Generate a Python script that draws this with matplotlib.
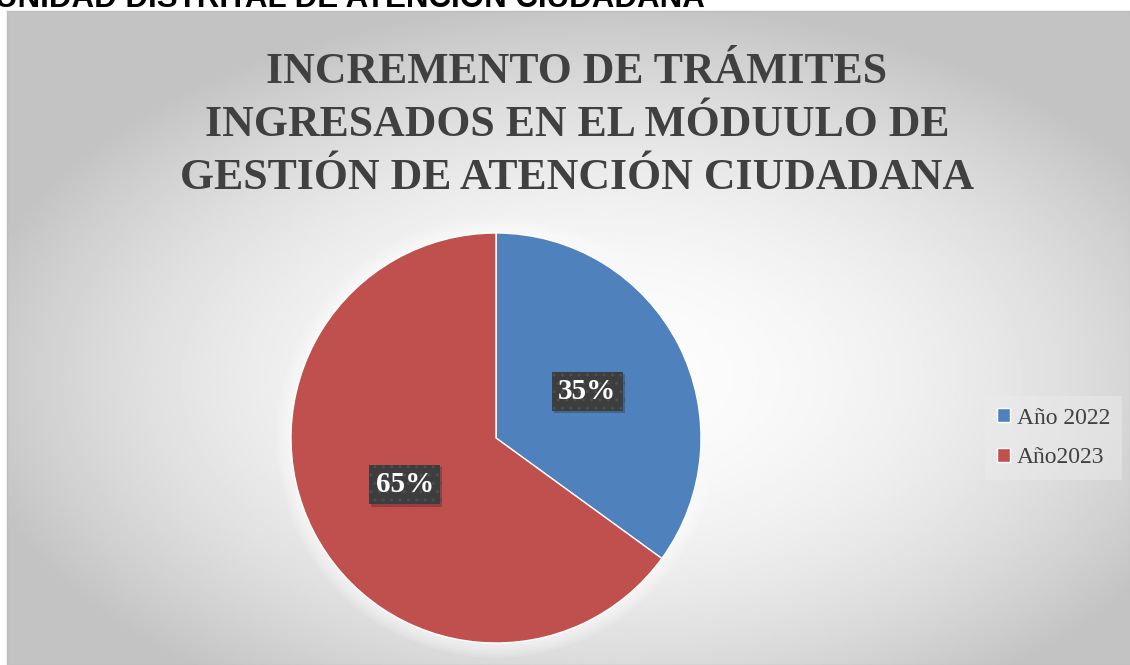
import numpy as np
import matplotlib.pyplot as plt
import matplotlib.patheffects as pe
from matplotlib.patches import Circle

# data
labels = ['Año 2022', 'Año2023']
values = [35, 65]
colors = ['#4F81BD', '#C0504D']
title = 'INCREMENTO DE TRÁMITES\nINGRESADOS EN EL MÓDUULO DE\nGESTIÓN DE ATENCIÓN CIUDADANA'
header = 'UNIDAD DISTRITAL DE ATENCIÓN CIUDADANA'

W, H = 1130, 665
fig = plt.figure(figsize=(W / 100, H / 100), dpi=100)
fig.patch.set_facecolor('white')

# chart area with radial gradient (white centre, grey edges)
x0, y0 = 7, 11
bg = fig.add_axes([x0 / W, 0, (W - x0) / W, (H - y0) / H])
ny, nx = 300, 500
yy, xx = np.mgrid[1:0:ny * 1j, 0:1:nx * 1j]
d = np.sqrt(((xx - 0.53) / 0.5) ** 2 + ((yy - 0.44) / 0.5) ** 2)
shade = 0.99 - 0.17 * np.minimum(d, 1.15) ** 2
bg.imshow(shade, cmap='gray', vmin=0, vmax=1, aspect='auto', extent=[0, 1, 0, 1])
bg.set_xlim(0, 1)
bg.set_ylim(0, 1)
bg.set_xticks([])
bg.set_yticks([])
for s in bg.spines.values():
    s.set_color('#bdbdbd')
    s.set_linewidth(1)

fig.text(-0.004, (H - 7) / H, header, fontsize=22.5, fontweight='bold',
         family='Liberation Sans', color='black', va='baseline', ha='left')

fig.text(577 / W, (H - 189) / H, title, ha='center', va='baseline', fontsize=31.5,
         fontweight='bold', family='Liberation Serif', color='#404040',
         linespacing=1.42)

# pie
cx, cy, r = 496, 438, 205
m = 1.1
ax = fig.add_axes([(cx - m * r) / W, (H - cy - m * r) / H, 2 * m * r / W, 2 * m * r / H])
ax.patch.set_visible(False)
# soft white glow round the pie
for k in range(6):
    ax.add_patch(Circle((0, 0), 1.0 + 0.012 * (k + 1), facecolor='white',
                        edgecolor='none', alpha=0.13, zorder=0))
wedges, texts, autotexts = ax.pie(
    values, colors=colors, startangle=90, counterclock=False,
    autopct='%1.0f%%', pctdistance=0.5, radius=1,
    wedgeprops=dict(edgecolor='white', linewidth=1, zorder=2))
ax.set_xlim(-m, m)
ax.set_ylim(-m, m)
for t in autotexts:
    t.set_color('white')
    t.set_fontsize(21)
    t.set_fontweight('bold')
    t.set_family('Liberation Serif')
    t.set_zorder(5)
    t.set_bbox(dict(boxstyle='square,pad=0.22', facecolor='#3d3d3d',
                    edgecolor='#4e4e4e', linewidth=0, hatch='..'))
    t.get_bbox_patch().set_path_effects(
        [pe.SimplePatchShadow(offset=(1.5, -1.5), alpha=0.25), pe.Normal()])

leg = fig.legend(wedges, labels, loc='center left',
                 bbox_to_anchor=(985 / W, (H - 438) / H),
                 frameon=True, handlelength=0.55, handleheight=0.55,
                 labelspacing=0.8, handletextpad=0.3, borderpad=0.5,
                 borderaxespad=0, fancybox=False,
                 prop={'family': 'Liberation Serif', 'size': 17})
leg.get_frame().set_facecolor('#ebebeb')
leg.get_frame().set_edgecolor('none')
leg.get_frame().set_alpha(0.5)
for t in leg.get_texts():
    t.set_color('#404040')

fig.savefig('out.png', dpi=100)
